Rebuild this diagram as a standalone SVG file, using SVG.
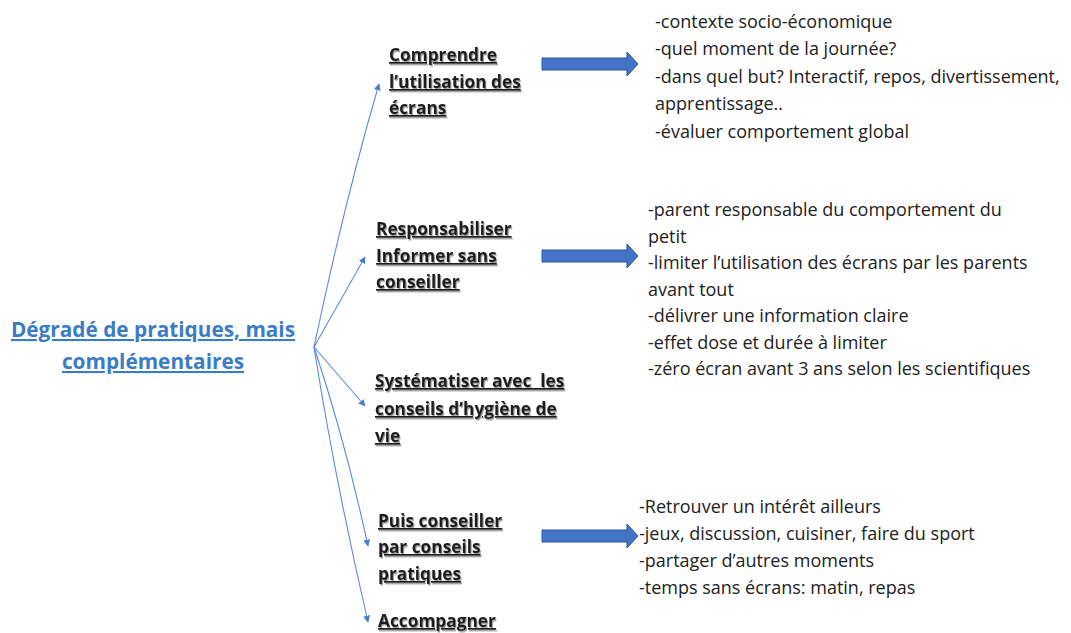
<svg xmlns="http://www.w3.org/2000/svg" width="1071" height="633" viewBox="0 0 1071 633">
<defs>
<style>
.title{font-family:"Open Sans","Liberation Sans",sans-serif;font-weight:bold;font-size:20.8px;fill:#3B7CC4;text-decoration:underline;text-anchor:middle}
.node{font-family:"Open Sans","Liberation Sans",sans-serif;font-weight:bold;font-size:17.3px;fill:#1a1a1a;text-decoration:underline}
.body{font-family:"Open Sans","Liberation Sans",sans-serif;font-size:18px;fill:#222}
.conn{stroke:#5B8BD9;stroke-width:1.1;fill:none}
.block{fill:#4472C4;stroke:#2F5597;stroke-width:1}
</style>
<filter id="sh" x="-5%" y="-20%" width="115%" height="150%">
<feDropShadow dx="1" dy="1.5" stdDeviation="0.6" flood-color="#808080" flood-opacity="0.8"/>
</filter>
<marker id="ah" viewBox="0 0 10 10" refX="9" refY="5" markerWidth="7" markerHeight="7" orient="auto" markerUnits="userSpaceOnUse">
<path d="M0,0 L10,5 L0,10 z" fill="#4A7CD6"/>
</marker>
</defs>
<rect width="1071" height="633" fill="#fff"/>

<g id="connectors">
<path class="conn" d="M314,347 Q345,200 379,84" marker-end="url(#ah)"/>
<path class="conn" d="M314,347 L365,257" marker-end="url(#ah)"/>
<path class="conn" d="M314,347 L365,406" marker-end="url(#ah)"/>
<path class="conn" d="M314,347 Q345,440 368,546" marker-end="url(#ah)"/>
<path class="conn" d="M314,347 Q335,480 368,622" marker-end="url(#ah)"/>
<path class="block" d="M542,58 L627,58 L627,52 L638,64 L627,76 L627,70 L542,70 z"/>
<path class="block" d="M542,250 L627,250 L627,244 L638,256 L627,268 L627,262 L542,262 z"/>
<path class="block" d="M542,530 L627,530 L627,524 L638,536 L627,548 L627,542 L542,542 z"/>
</g>

<g id="title">
<text class="title" x="153" y="337">Dégradé de pratiques, mais</text>
<text class="title" x="153" y="369">complémentaires</text>
</g>

<g id="node-comprendre" filter="url(#sh)">
<text class="node" x="389" y="61">Comprendre</text>
<text class="node" x="389" y="88">l’utilisation des</text>
<text class="node" x="389" y="114">écrans</text>
</g>
<g id="node-responsabiliser" filter="url(#sh)">
<text class="node" x="376" y="235">Responsabiliser</text>
<text class="node" x="376" y="262">Informer sans</text>
<text class="node" x="376" y="288">conseiller</text>
</g>
<g id="node-systematiser" filter="url(#sh)">
<text class="node" x="375" y="387" xml:space="preserve">Systématiser avec  les</text>
<text class="node" x="375" y="415">conseils d’hygiène de</text>
<text class="node" x="375" y="442">vie</text>
</g>
<g id="node-puis" filter="url(#sh)">
<text class="node" x="378" y="527">Puis conseiller</text>
<text class="node" x="378" y="553">par conseils</text>
<text class="node" x="378" y="580">pratiques</text>
</g>
<g id="node-accompagner" filter="url(#sh)">
<text class="node" x="378" y="627">Accompagner</text>
</g>

<g id="detail-comprendre">
<text class="body" x="655" y="28">-contexte socio-économique</text>
<text class="body" x="655" y="55">-quel moment de la journée?</text>
<text class="body" x="655" y="83">-dans quel but? Interactif, repos, divertissement,</text>
<text class="body" x="655" y="110">apprentissage..</text>
<text class="body" x="655" y="138">-évaluer comportement global</text>
</g>
<g id="detail-responsabiliser">
<text class="body" x="648" y="216">-parent responsable du comportement du</text>
<text class="body" x="648" y="243">petit</text>
<text class="body" x="648" y="269">-limiter l’utilisation des écrans par les parents</text>
<text class="body" x="648" y="296">avant tout</text>
<text class="body" x="648" y="322">-délivrer une information claire</text>
<text class="body" x="648" y="349">-effet dose et durée à limiter</text>
<text class="body" x="648" y="375">-zéro écran avant 3 ans selon les scientifiques</text>
</g>
<g id="detail-puis">
<text class="body" x="639" y="513">-Retrouver un intérêt ailleurs</text>
<text class="body" x="639" y="540">-jeux, discussion, cuisiner, faire du sport</text>
<text class="body" x="639" y="567">-partager d’autres moments</text>
<text class="body" x="639" y="594">-temps sans écrans: matin, repas</text>
</g>
</svg>
